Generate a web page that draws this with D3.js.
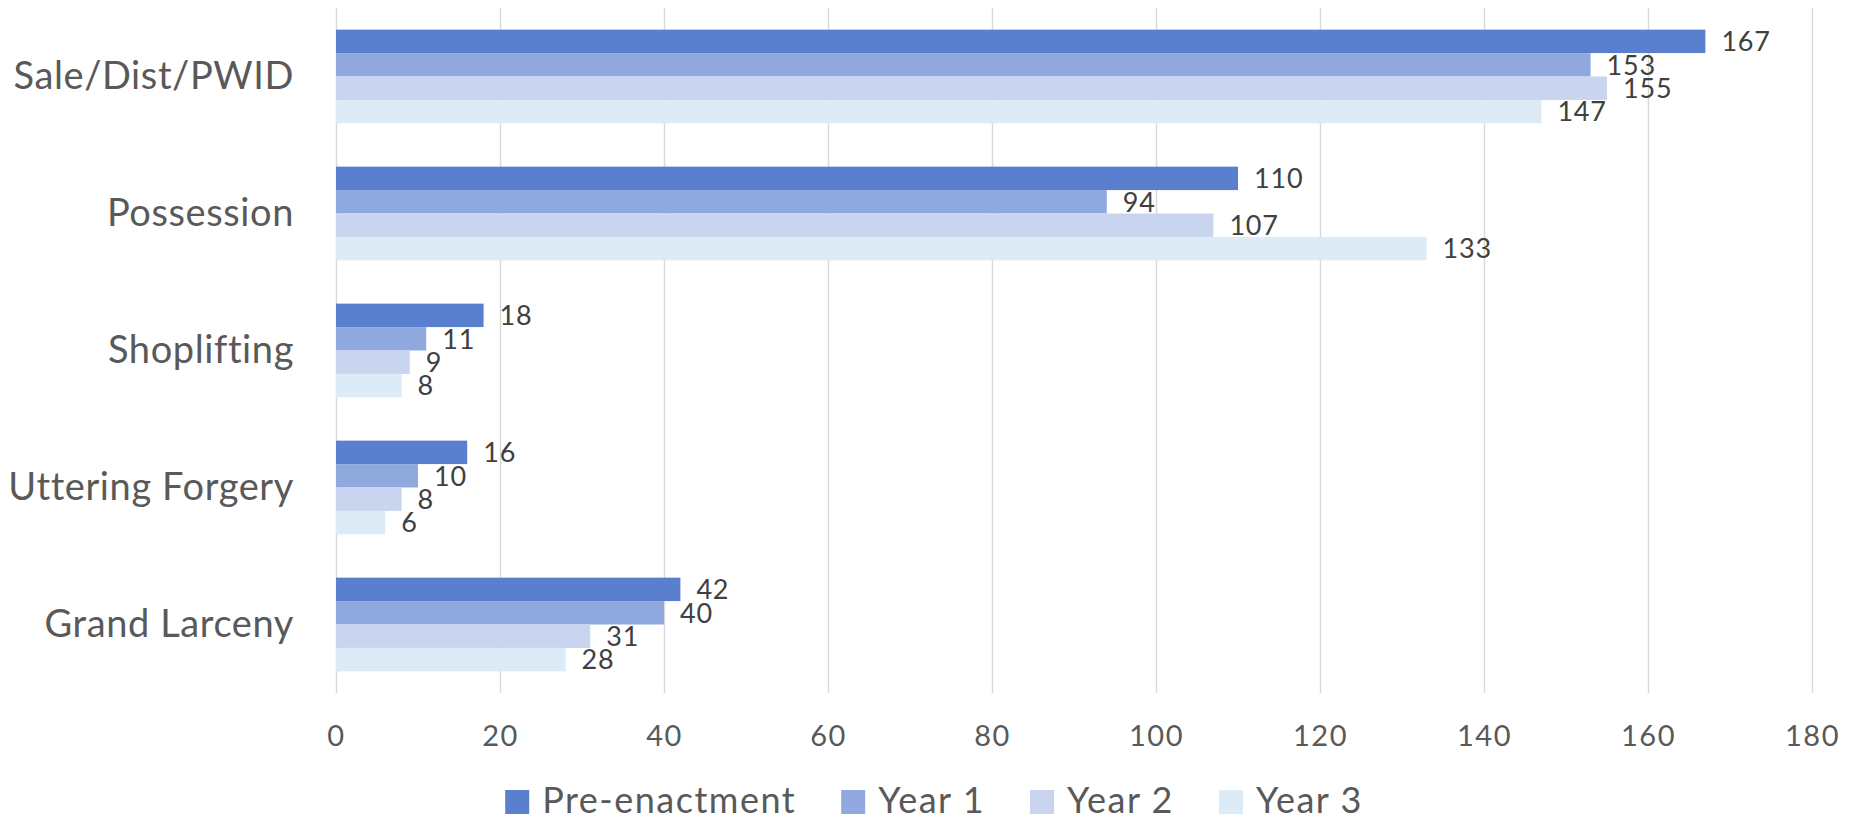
<!DOCTYPE html>
<html lang="en">
<head>
	<meta charset="UTF-8">
	<title>Charges by period</title>
	<script src="https://cdn.jsdelivr.net/npm/d3@7/dist/d3.min.js"></script>
	<style>
		body{margin:0;background:#fff;}
		svg text{font-family:Lato,"Open Sans",sans-serif;}
	</style>
</head>
<body>
<script type="text/javascript">
// categories and series
var categories = ["Sale/Dist/PWID","Possession","Shoplifting","Uttering Forgery","Grand Larceny"];
var seriesNames = ["Pre-enactment","Year 1","Year 2","Year 3"];
var preEnactment = [167,110,18,16,42];
var year1 = [153,94,11,10,40];
var year2 = [155,107,9,8,31];
var year3 = [147,133,8,6,28];
var xTicks = [0,20,40,60,80,100,120,140,160,180];
var colors = ["#5a7fcf","#8fa9df","#c9d4ef","#ddebf7"];

var allSeries = [preEnactment,year1,year2,year3];
var width = 1851, height = 822;
var svg = d3.select("body").append("svg").attr("width",width).attr("height",height);

var plot = {left:336,right:1812,top:8,bottom:693};

// x比例尺
var xScale = d3.scaleLinear().domain([0,180]).range([plot.left,plot.right]);
// y比例尺 (categories)
var yScale = d3.scaleBand().domain(categories).range([plot.top,plot.bottom])
	.paddingInner(0.316).paddingOuter(0.158);
var ySub = d3.scaleBand().domain(d3.range(seriesNames.length)).range([0,yScale.bandwidth()]);

// gridlines + tick labels
var xAxis = d3.axisBottom(xScale).tickValues(xTicks).tickSize(-(plot.bottom-plot.top)).tickPadding(32);
var gx = svg.append("g").attr("transform","translate(0,"+plot.bottom+")").call(xAxis);
gx.select(".domain").remove();
gx.selectAll("line").attr("stroke","#d9d9d9").attr("stroke-width",1.4);
gx.selectAll("text").attr("fill","#595959").attr("font-size","29px").attr("letter-spacing","1.5px");

// category labels
var yAxis = d3.axisLeft(yScale).tickSize(0).tickPadding(42);
var gy = svg.append("g").attr("transform","translate("+plot.left+",0)").call(yAxis);
gy.select(".domain").remove();
gy.selectAll("text").attr("fill","#595959").attr("font-size","38px").attr("letter-spacing","0.6px");

// bars
var rows = [];
categories.forEach(function(c,i){
	allSeries.forEach(function(s,j){ rows.push({cat:c,s:j,v:s[i]}); });
});
svg.append("g").selectAll("rect").data(rows).enter().append("rect")
	.attr("x",xScale(0))
	.attr("y",function(d){return yScale(d.cat)+ySub(d.s);})
	.attr("width",function(d){return xScale(d.v)-xScale(0);})
	.attr("height",ySub.bandwidth())
	.attr("fill",function(d){return colors[d.s];});

// data labels
svg.append("g").selectAll("text").data(rows).enter().append("text")
	.attr("x",function(d){return xScale(d.v)+16;})
	.attr("y",function(d){return yScale(d.cat)+ySub(d.s)+ySub.bandwidth()/2;})
	.attr("dy","0.36em")
	.attr("fill","#404040").attr("font-size","27px").attr("letter-spacing","0.8px")
	.text(function(d){return d.v;});

// legend
var legend = svg.append("g");
var items = legend.selectAll("g").data(seriesNames).enter().append("g");
items.append("rect").attr("width",24).attr("height",24).attr("y",790)
	.attr("fill",function(d,i){return colors[i];});
items.append("text").attr("x",37).attr("y",813).attr("fill","#595959")
	.attr("font-size","36px").attr("letter-spacing","1.5px").text(function(d){return d;});
var xpos = 0, offs = [];
items.each(function(){
	offs.push(xpos);
	var w = d3.select(this).select("text").node().getComputedTextLength();
	xpos += 37 + w + 45;
});
var total = xpos - 45;
var start = 934 - total/2;
items.attr("transform",function(d,i){return "translate("+(start+offs[i])+",0)";});
</script>
</body>
</html>
